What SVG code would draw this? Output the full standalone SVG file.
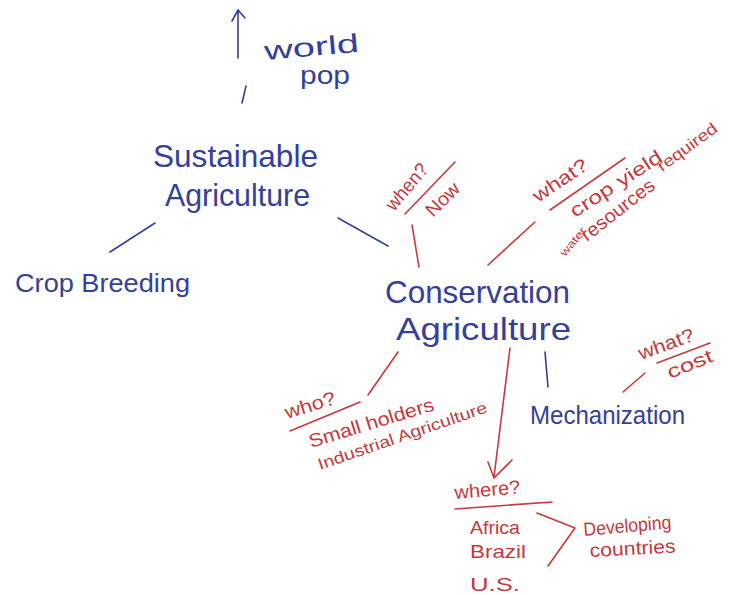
<svg xmlns="http://www.w3.org/2000/svg" width="741" height="595" viewBox="0 0 741 595">
  <style>
    .blue { fill: #34409a; }
    .red { fill: #c8383c; }
    text { font-family: "Liberation Sans", "DejaVu Sans", sans-serif; }
    .big { font-size: 32px; }
    .mid { font-size: 26px; }
    .sm { font-size: 19px; }
    .xs { font-size: 16px; }
    .tiny { font-size: 11px; }
    .lb { stroke: #34409a; stroke-width: 1.6; fill: none; stroke-linecap: round; stroke-linejoin: round; }
    .lr { stroke: #c8383c; stroke-width: 1.6; fill: none; stroke-linecap: round; stroke-linejoin: round; }
  </style>
  <rect width="741" height="595" fill="#ffffff"/>

  <!-- connectors -->
  <g id="connectors">
    <!-- upward arrow toward world pop -->
    <path class="lb" d="M238,58 L238,12 M232,21 L238,10 L245,18"/>
    <path class="lb" d="M246,86 L242,103"/>
    <path class="lb" d="M155,223 L110,252"/>
    <path class="lb" d="M338,218 L388,246"/>
    <path class="lb" d="M545,352 L548,387"/>
    <path class="lr" d="M412,225 L419,267"/>
    <path class="lr" d="M488,265 L535,222"/>
    <path class="lr" d="M368,395 L398,352"/>
    <path class="lr" d="M510,348 L494,477 M488,462 L494,478 L512,460"/>
    <path class="lr" d="M623,392 L645,373"/>
    <!-- bracket grouping countries -->
    <path class="lr" d="M537,513 L575,528 L548,566"/>
  </g>

  <g id="world-pop">
    <text class="blue mid" x="265" y="60" textLength="95" lengthAdjust="spacingAndGlyphs" transform="rotate(-5 265 60)">world</text>
    <text class="blue mid" x="300" y="84" textLength="50" lengthAdjust="spacingAndGlyphs">pop</text>
  </g>

  <g id="sustainable-agriculture">
    <text class="blue big" x="153" y="167" textLength="165" lengthAdjust="spacingAndGlyphs">Sustainable</text>
    <text class="blue big" x="165" y="206" textLength="145" lengthAdjust="spacingAndGlyphs">Agriculture</text>
  </g>

  <g id="crop-breeding">
    <text class="blue mid" x="15" y="292" textLength="175" lengthAdjust="spacingAndGlyphs">Crop Breeding</text>
  </g>

  <g id="conservation-agriculture">
    <text class="blue big" x="385" y="303" textLength="185" lengthAdjust="spacingAndGlyphs">Conservation</text>
    <text class="blue big" x="396" y="340" textLength="175" lengthAdjust="spacingAndGlyphs">Agriculture</text>
  </g>

  <g id="mechanization">
    <text class="blue mid" x="530" y="424" textLength="155" lengthAdjust="spacingAndGlyphs">Mechanization</text>
  </g>

  <g id="when">
    <text class="red sm" x="394" y="212" textLength="55" lengthAdjust="spacingAndGlyphs" transform="rotate(-50 394 212)">when?</text>
    <path class="lr" d="M405,214 L455,162"/>
    <text class="red sm" x="433" y="218" textLength="40" lengthAdjust="spacingAndGlyphs" transform="rotate(-45 433 218)">Now</text>
  </g>

  <g id="what-yield">
    <text class="red sm" x="538" y="203" textLength="62" lengthAdjust="spacingAndGlyphs" transform="rotate(-34 538 203)">what?</text>
    <path class="lr" d="M550,210 L625,158"/>
    <text class="red sm" x="575" y="218" textLength="106" lengthAdjust="spacingAndGlyphs" transform="rotate(-33 575 218)">crop yield</text>
    <text class="red tiny" x="565" y="257" textLength="34" lengthAdjust="spacingAndGlyphs" transform="rotate(-50 565 257)">water</text>
    <text class="red sm" x="587" y="242" textLength="88" lengthAdjust="spacingAndGlyphs" transform="rotate(-38 587 242)">resources</text>
    <text class="red xs" x="662" y="172" textLength="70" lengthAdjust="spacingAndGlyphs" transform="rotate(-36 662 172)">required</text>
  </g>

  <g id="what-cost">
    <text class="red sm" x="641" y="360" textLength="58" lengthAdjust="spacingAndGlyphs" transform="rotate(-20 641 360)">what?</text>
    <path class="lr" d="M657,363 L710,343"/>
    <text class="red sm" x="670" y="379" textLength="48" lengthAdjust="spacingAndGlyphs" transform="rotate(-22 670 379)">cost</text>
  </g>

  <g id="who">
    <text class="red sm" x="287" y="419" textLength="52" lengthAdjust="spacingAndGlyphs" transform="rotate(-17 287 419)">who?</text>
    <path class="lr" d="M290,431 L360,402"/>
    <text class="red sm" x="311" y="448" textLength="130" lengthAdjust="spacingAndGlyphs" transform="rotate(-17 311 448)">Small holders</text>
    <text class="red xs" x="320" y="470" textLength="178" lengthAdjust="spacingAndGlyphs" transform="rotate(-19 320 470)">Industrial Agriculture</text>
  </g>

  <g id="where">
    <text class="red sm" x="455" y="499" textLength="66" lengthAdjust="spacingAndGlyphs" transform="rotate(-5 455 499)">where?</text>
    <path class="lr" d="M455,509 L552,502"/>
    <text class="red sm" x="470" y="534" textLength="50" lengthAdjust="spacingAndGlyphs">Africa</text>
    <text class="red sm" x="470" y="558" textLength="56" lengthAdjust="spacingAndGlyphs">Brazil</text>
    <text class="red sm" x="470" y="591" textLength="50" lengthAdjust="spacingAndGlyphs">U.S.</text>
  </g>

  <g id="developing-countries">
    <text class="red sm" x="584" y="536" textLength="88" lengthAdjust="spacingAndGlyphs" transform="rotate(-5 584 536)">Developing</text>
    <text class="red sm" x="590" y="557" textLength="86" lengthAdjust="spacingAndGlyphs" transform="rotate(-3 590 557)">countries</text>
  </g>
</svg>
